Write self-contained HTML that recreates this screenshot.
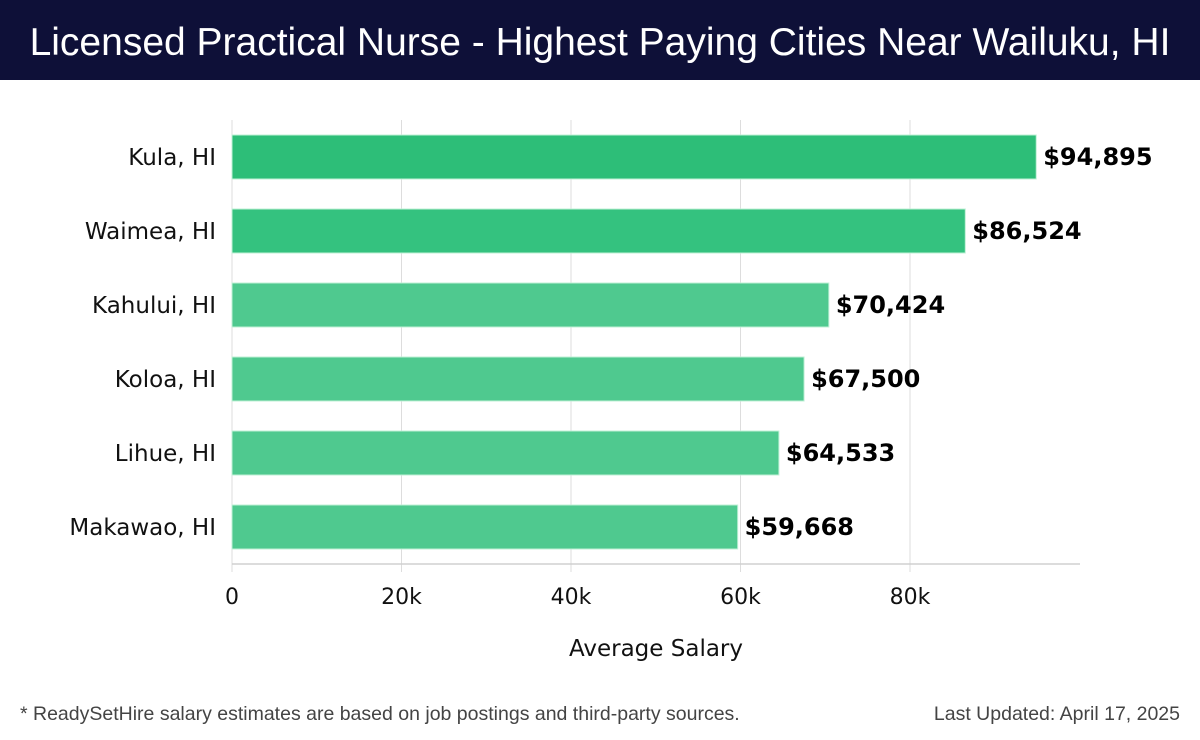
<!DOCTYPE html>
<html><head><meta charset="utf-8">
<style>
body{margin:0;width:1200px;height:740px;background:#fff;overflow:hidden;font-family:"DejaVu Sans","Liberation Sans",sans-serif;}
#title{position:absolute;left:0;top:0;width:1200px;height:80px;background:#0e1038;color:#fff;font-size:39px;line-height:86px;text-align:center;font-family:"Liberation Sans",sans-serif;}
</style></head><body>
<div id="title">Licensed Practical Nurse - Highest Paying Cities Near Wailuku, HI</div>
<svg id="chart" width="1200" height="740" style="position:absolute;left:0;top:0"></svg>
<script>
const categories=["Kula, HI","Waimea, HI","Kahului, HI","Koloa, HI","Lihue, HI","Makawao, HI"];
const values=[94895,86524,70424,67500,64533,59668];
const valueLabels=["$94,895","$86,524","$70,424","$67,500","$64,533","$59,668"];
const tickValues=[0,20000,40000,60000,80000];
const tickLabels=["0","20k","40k","60k","80k"];
const svg=document.getElementById('chart');
const NS='http://www.w3.org/2000/svg';
const x0=232,pxPer=169.5/20000,top0=120,band=74,barH=44,axisY=564,xEnd=1080;
const xs=v=>x0+v*pxPer;
function mk(t,a,p){const e=document.createElementNS(NS,t);for(const k in a)e.setAttribute(k,a[k]);(p||svg).appendChild(e);return e;}
tickValues.forEach((v,i)=>{
 const g=mk('line',{x1:xs(v),x2:xs(v),y1:top0,y2:axisY+8,stroke:'#dddddd','stroke-width':1});
 
 
 const t=mk('text',{x:xs(v),y:604,'text-anchor':'middle','font-size':22,fill:'#111'});
 t.textContent=tickLabels[i];
 
 
});
const ax=mk('line',{x1:x0,x2:xEnd,y1:axisY,y2:axisY,stroke:'#d0d0d0','stroke-width':1.5});


categories.forEach((c,i)=>{
 const y=top0+i*band+(band-barH)/2;
 const r=mk('rect',{x:x0,y:y,width:xs(values[i])-x0,height:barH,fill:i<2?(i==0?'#2dbe78':'#34c27f'):'#4fc98f',stroke:'#bff0d6','stroke-width':1});
 
 
 const l=mk('text',{x:216,y:y+barH/2+8,'text-anchor':'end','font-size':23,fill:'#111'});
 l.textContent=c;
 
 
 const v=mk('text',{x:xs(values[i])+7,y:y+barH/2+8,'font-size':24,'font-weight':'bold',fill:'#000'});
 v.textContent=valueLabels[i];
 
 
});
const at=mk('text',{x:656,y:656,'text-anchor':'middle','font-size':23,fill:'#111'});
at.textContent='Average Salary';


const f1=mk('text',{x:20,y:720,'font-size':19.5,fill:'#444','font-family':'Liberation Sans, sans-serif'});
f1.textContent='* ReadySetHire salary estimates are based on job postings and third-party sources.';


const f2=mk('text',{x:1180,y:720,'text-anchor':'end','font-size':19.5,fill:'#444','font-family':'Liberation Sans, sans-serif'});
f2.textContent='Last Updated: April 17, 2025';


</script>
</body></html>
